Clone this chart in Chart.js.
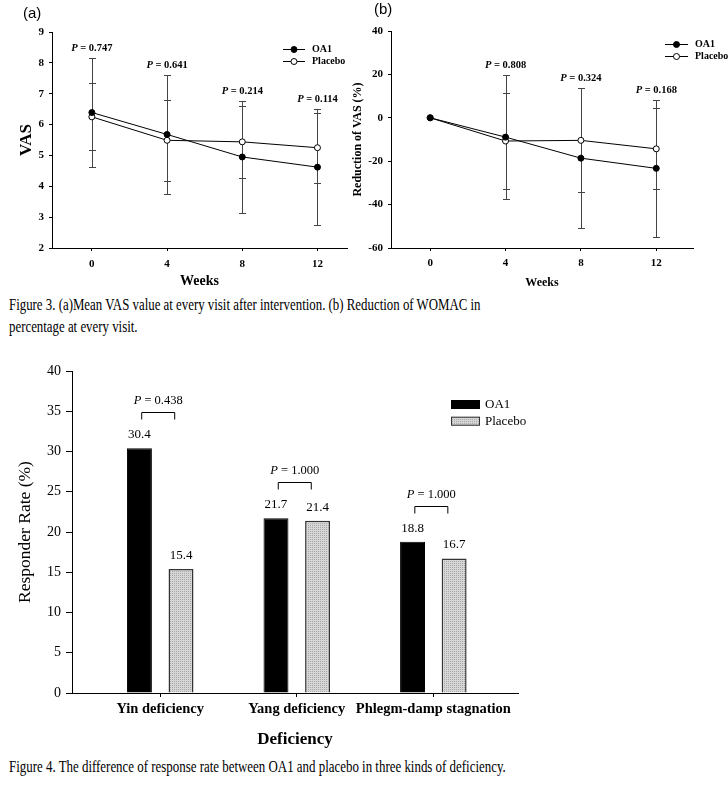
<!DOCTYPE html>
<html>
<head>
<meta charset="utf-8">
<script src="https://cdn.jsdelivr.net/npm/chart.js@4"></script>
<style>
  body { margin: 0; background: #fff; }
  #page { position: relative; width: 728px; height: 788px; overflow: hidden; }
  canvas { position: absolute; }
  .tag { position: absolute; font: 15px 'Liberation Sans', sans-serif; color: #000; }
  .cap { position: absolute; left: 9px; font: 17px 'Liberation Serif', serif; line-height: 22px;
         white-space: nowrap; transform-origin: left top; color: #000; }
</style>
</head>
<body>
<div id="page">
  <canvas id="vas" width="360" height="290" style="left:0;top:0"></canvas>
  <canvas id="red" width="378" height="290" style="left:350px;top:0"></canvas>
  <canvas id="resp" width="728" height="400" style="left:0;top:355px"></canvas>
  <div class="tag" style="left:23px;top:4px">(a)</div>
  <div class="tag" style="left:374px;top:0px">(b)</div>
  <div class="cap" id="cap3" style="top:294px">Figure 3. (a)Mean VAS value at every visit after intervention. (b) Reduction of WOMAC in<br>percentage at every visit.</div>
  <div class="cap" id="cap4" style="top:756px">Figure 4. The difference of response rate between OA1 and placebo in three kinds of deficiency.</div>
</div>
<script>
// figure 3 data
const weeks = [0, 4, 8, 12];
const vasOA1 = [6.39, 5.68, 4.95, 4.62];
const vasOA1Sd = [1.76, 1.92, 1.82, 1.88];
const vasPlacebo = [6.25, 5.49, 5.44, 5.25];
const vasPlaceboSd = [1.09, 1.31, 1.16, 1.13];
const vasP = ['0.747', '0.641', '0.214', '0.114'];

const redOA1 = [0, -8.9, -18.6, -23.3];
const redOA1Sd = [0, 28.4, 32.2, 31.6];
const redPlacebo = [0, -10.7, -10.4, -14.3];
const redPlaceboSd = [0, 22.0, 24.0, 18.6];
const redP = [null, '0.808', '0.324', '0.168'];

// figure 4 data
const deficiency = ['Yin deficiency', 'Yang deficiency', 'Phlegm-damp stagnation'];
const rateOA1 = [30.4, 21.7, 18.8];
const ratePlacebo = [15.4, 21.4, 16.7];
const rateP = ['0.438', '1.000', '1.000'];

const serif = "'Liberation Serif', 'Times New Roman', serif";
Chart.defaults.color = '#000';
Chart.defaults.font.family = serif;

// draws "P = x" with an italic P
function drawP(ctx, cx, cy, p, size, weight) {
  const it = `italic ${weight} ${size}px ${serif}`;
  const re = `${weight} ${size}px ${serif}`;
  const rest = ' = ' + p;
  ctx.font = it; const w1 = ctx.measureText('P').width;
  ctx.font = re; const w2 = ctx.measureText(rest).width;
  const x = cx - (w1 + w2) / 2;
  ctx.fillStyle = '#000';
  ctx.textBaseline = 'middle';
  ctx.textAlign = 'left';
  ctx.font = it; ctx.fillText('P', x, cy);
  ctx.font = re; ctx.fillText(rest, x + w1, cy);
}

const errorBars = {
  id: 'errorBars',
  beforeDatasetsDraw(chart) {
    const { ctx, scales: { x, y } } = chart;
    ctx.save();
    ctx.strokeStyle = '#444';
    ctx.lineWidth = 1;
    chart.data.datasets.forEach(ds => {
      ds.data.forEach((pt, i) => {
        const sd = ds.sd[i];
        if (!sd) return;
        const px = Math.round(x.getPixelForValue(pt.x)) + 0.5;
        const top = Math.round(y.getPixelForValue(pt.y + sd)) + 0.5;
        const bot = Math.round(y.getPixelForValue(pt.y - sd)) + 0.5;
        ctx.beginPath();
        ctx.moveTo(px, top); ctx.lineTo(px, bot);
        ctx.moveTo(px - 3.5, top); ctx.lineTo(px + 3.5, top);
        ctx.moveTo(px - 3.5, bot); ctx.lineTo(px + 3.5, bot);
        ctx.stroke();
      });
    });
    ctx.restore();
  },
  afterDatasetsDraw(chart, args, opts) {
    const { ctx, scales: { x, y } } = chart;
    ctx.save();
    opts.p.forEach((p, i) => {
      if (!p) return;
      const top = Math.min(...chart.data.datasets.map(ds => y.getPixelForValue(ds.data[i].y + ds.sd[i])));
      drawP(ctx, x.getPixelForValue(weeks[i]), top - 10, p, 10.5, 'bold');
    });
    ctx.restore();
  }
};

const lineKey = {
  id: 'lineKey',
  afterDraw(chart, args, o) {
    const ctx = chart.ctx;
    ctx.save();
    chart.data.datasets.forEach((ds, i) => {
      const yy = Math.round(o.y + i * o.gap) + 0.5;
      ctx.strokeStyle = '#000';
      ctx.lineWidth = 1;
      ctx.beginPath();
      ctx.moveTo(o.x, yy); ctx.lineTo(o.x + o.len, yy);
      ctx.stroke();
      ctx.beginPath();
      ctx.arc(o.x + o.len / 2, yy, 3, 0, Math.PI * 2);
      ctx.fillStyle = ds.pointBackgroundColor;
      ctx.fill(); ctx.stroke();
      ctx.fillStyle = '#000';
      ctx.font = `bold 10px ${serif}`;
      ctx.textBaseline = 'middle';
      ctx.fillText(ds.label, o.x + o.len + 7, yy);
    });
    ctx.restore();
  }
};

function lineChart(id, cfg) {
  const set = (label, vals, sd, fill) => ({
    label, sd,
    data: weeks.map((w, i) => ({ x: w, y: vals[i] })),
    borderColor: '#000', borderWidth: 1,
    pointRadius: 3, pointHoverRadius: 3, pointBorderWidth: 1,
    pointBorderColor: '#000', pointBackgroundColor: fill
  });
  return new Chart(document.getElementById(id), {
    type: 'line',
    data: {
      datasets: [
        set('OA1', cfg.oa1, cfg.oa1Sd, '#000'),
        set('Placebo', cfg.placebo, cfg.placeboSd, '#fff')
      ]
    },
    plugins: [errorBars, lineKey],
    options: {
      responsive: false, animation: false, devicePixelRatio: 1,
      layout: { padding: cfg.padding },
      plugins: {
        legend: { display: false }, tooltip: { enabled: false },
        errorBars: { p: cfg.p },
        lineKey: cfg.key
      },
      scales: {
        x: {
          type: 'linear', min: cfg.xMin, max: cfg.xMax,
          afterBuildTicks: s => { s.ticks = weeks.map(w => ({ value: w })); },
          afterFit: s => { s.height = 42; },
          grid: { drawOnChartArea: false, tickLength: 3, color: '#000' },
          border: { color: '#000' },
          ticks: { font: { size: 11, weight: 'bold' }, padding: cfg.xPad, maxRotation: 0 },
          title: { display: true, text: 'Weeks', font: cfg.xTitleFont, padding: { top: 0, bottom: 0 } }
        },
        y: {
          min: cfg.yMin, max: cfg.yMax,
          afterFit: s => { s.width = cfg.yWidth; },
          grid: { drawOnChartArea: false, tickLength: 3, color: '#000' },
          border: { color: '#000' },
          ticks: { stepSize: cfg.yStep, font: { size: 11, weight: 'bold' }, padding: 5 },
          title: { display: true, text: cfg.yTitle, font: cfg.yTitleFont, padding: { top: cfg.yTitlePad, bottom: 0 } }
        }
      }
    }
  });
}

lineChart('vas', {
  oa1: vasOA1, oa1Sd: vasOA1Sd, placebo: vasPlacebo, placeboSd: vasPlaceboSd, p: vasP,
  padding: { left: 0, top: 32, right: 13, bottom: 0 },
  xMin: -2.12, xMax: 13.57, xPad: 6.5, xTitleFont: { size: 14, weight: 'bold' },
  yMin: 2, yMax: 9, yStep: 1, yWidth: 52,
  yTitle: 'VAS', yTitleFont: { size: 17, weight: 'bold' }, yTitlePad: 16,
  key: { x: 283, y: 49, gap: 12, len: 22 }
});

lineChart('red', {
  oa1: redOA1, oa1Sd: redOA1Sd, placebo: redPlacebo, placeboSd: redPlaceboSd, p: redP,
  padding: { left: 0, top: 31, right: 35, bottom: 0 },
  xMin: -2.08, xMax: 13.95, xPad: 5.7, xTitleFont: { size: 12, weight: 'bold' },
  yMin: -60, yMax: 40, yStep: 20, yWidth: 41,
  yTitle: 'Reduction of VAS (%)', yTitleFont: { size: 12, weight: 'bold' }, yTitlePad: 1,
  key: { x: 315, y: 43.5, gap: 12.7, len: 23 }
});

// figure 4
const respCanvas = document.getElementById('resp');
const tile = document.createElement('canvas');
tile.width = tile.height = 2;
const tctx = tile.getContext('2d');
tctx.fillStyle = '#d6d6d6'; tctx.fillRect(0, 0, 2, 2);
tctx.fillStyle = '#a8a8a8'; tctx.fillRect(0, 0, 1, 1);
const stipple = respCanvas.getContext('2d').createPattern(tile, 'repeat');

const barNotes = {
  id: 'barNotes',
  afterDatasetsDraw(chart) {
    const { ctx, scales: { x } } = chart;
    ctx.save();
    ctx.fillStyle = '#000';
    ctx.font = `13px ${serif}`;
    ctx.textAlign = 'center';
    ctx.textBaseline = 'middle';
    chart.data.datasets.forEach((ds, d) => {
      chart.getDatasetMeta(d).data.forEach((el, i) => {
        ctx.fillText(ds.data[i].y.toFixed(1), el.x, el.y - 13.5);
      });
    });
    rateP.forEach((p, i) => {
      const barTop = Math.min(...chart.data.datasets.map((ds, d) => chart.getDatasetMeta(d).data[i].y));
      const top = Math.round(barTop - 36) + 0.5;
      const cx = x.getPixelForValue(i) - 2;
      ctx.strokeStyle = '#000';
      ctx.lineWidth = 1;
      ctx.beginPath();
      ctx.moveTo(cx - 16.5, top + 7); ctx.lineTo(cx - 16.5, top);
      ctx.lineTo(cx + 16.5, top); ctx.lineTo(cx + 16.5, top + 7);
      ctx.stroke();
      drawP(ctx, cx, top - 12, p, 12.5, 'normal');
    });
    ctx.restore();
  },
  afterDraw(chart, args, o) {
    const ctx = chart.ctx;
    ctx.save();
    chart.data.datasets.forEach((ds, i) => {
      const yy = o.y + i * o.gap;
      ctx.fillStyle = ds.backgroundColor;
      ctx.fillRect(o.x, yy, 29, 9);
      ctx.strokeStyle = ds.borderColor;
      ctx.lineWidth = 1;
      ctx.strokeRect(o.x + 0.5, yy + 0.5, 28, 8);
      ctx.fillStyle = '#000';
      ctx.font = `13px ${serif}`;
      ctx.textBaseline = 'middle';
      ctx.textAlign = 'left';
      ctx.fillText(ds.label, o.x + 34, yy + 4.5);
    });
    ctx.restore();
  }
};

new Chart(respCanvas, {
  type: 'bar',
  data: {
    datasets: [
      { label: 'OA1', data: rateOA1.map((v, i) => ({ x: i, y: v })),
        backgroundColor: '#000', borderColor: '#000', borderWidth: 1 },
      { label: 'Placebo', data: ratePlacebo.map((v, i) => ({ x: i, y: v })),
        backgroundColor: stipple, borderColor: '#333', borderWidth: 1.5 }
    ]
  },
  plugins: [barNotes],
  options: {
    responsive: false, animation: false, devicePixelRatio: 1,
    datasets: { bar: { categoryPercentage: 0.609, barPercentage: 0.6 } },
    layout: { padding: { left: 0, top: 16, right: 210, bottom: 0 } },
    plugins: {
      legend: { display: false }, tooltip: { enabled: false },
      barNotes: { x: 451, y: 45, gap: 16.7 }
    },
    scales: {
      x: {
        type: 'linear', min: -0.646, max: 2.62, offset: false,
        afterBuildTicks: s => { s.ticks = deficiency.map((_, i) => ({ value: i })); },
        afterFit: s => { s.height = 62; },
        grid: { drawOnChartArea: false, offset: false, tickLength: 4, color: '#000' },
        border: { color: '#000' },
        ticks: { callback: v => deficiency[v], font: { size: 14.5, weight: 'bold' }, padding: 4, maxRotation: 0, autoSkip: false },
        title: { display: true, text: 'Deficiency', font: { size: 17, weight: 'bold' }, padding: { top: 0, bottom: 5 } }
      },
      y: {
        min: 0, max: 40,
        afterFit: s => { s.width = 72; },
        grid: { drawOnChartArea: false, tickLength: 6, color: '#000' },
        border: { color: '#000' },
        ticks: { stepSize: 5, font: { size: 14 }, padding: 5 },
        title: { display: true, text: 'Responder Rate (%)', font: { size: 17.5 }, padding: { top: 14.5, bottom: 0 } }
      }
    }
  }
});

// captions are horizontally condensed in the source
const mctx = document.createElement('canvas').getContext('2d');
mctx.font = `17px ${serif}`;
const s3 = 472 / mctx.measureText('Figure 3. (a)Mean VAS value at every visit after intervention. (b) Reduction of WOMAC in').width;
const s4 = 497 / mctx.measureText(document.getElementById('cap4').textContent).width;
document.getElementById('cap3').style.transform = `scaleX(${s3})`;
document.getElementById('cap4').style.transform = `scaleX(${s4})`;
</script>
</body>
</html>
